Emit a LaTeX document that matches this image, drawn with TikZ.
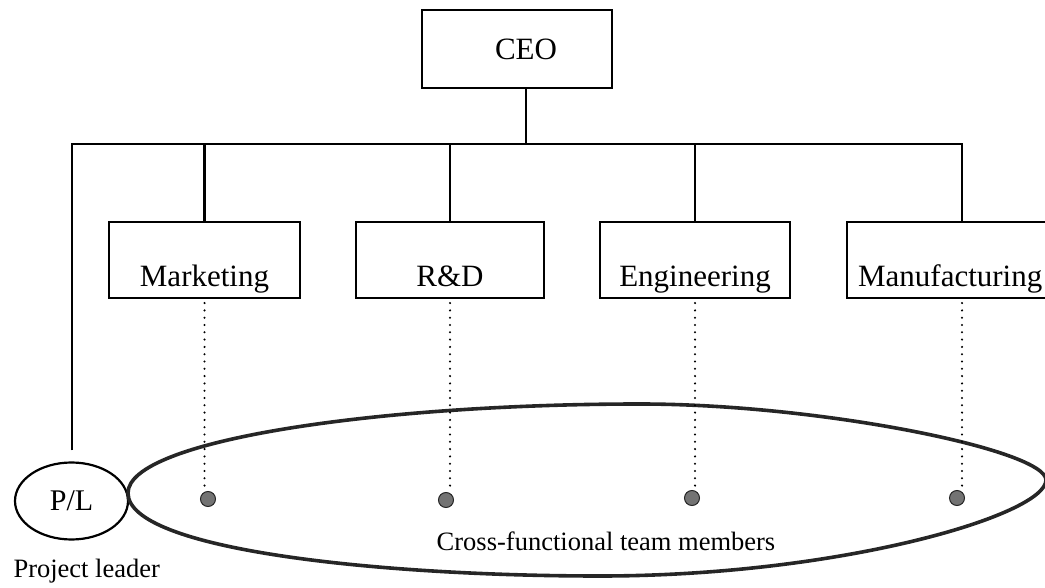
\documentclass[tikz,border=0pt]{standalone}
\usepackage{fontspec}
\setmainfont{Liberation Serif}
\usetikzlibrary{shapes.geometric}
\begin{document}
\begin{tikzpicture}[x=1pt,y=-1pt,
  unitbox/.style={draw, line width=2.2pt, inner sep=0pt,
    font=\fontsize{31}{36}\selectfont},
  deptbox/.style={unitbox, minimum height=76pt, text height=65pt, text depth=11pt},
  link/.style={line width=2.2pt, line join=miter},
  dotline/.style={line width=2.3pt, line cap=round, dash pattern=on 0pt off 7.3pt,
    shorten >=4pt, shorten <=4pt},
  member/.style={circle, fill=black!55, draw=black!85, line width=1pt,
    minimum size=15pt, inner sep=0pt},
  team/.style={draw=black!85, line width=3.6pt},
  caption/.style={font=\fontsize{26.5}{30}\selectfont}]

\useasboundingbox (0,0) rectangle (1045,588);
\clip (0,0) rectangle (1045,588);

% top of the hierarchy
\node[unitbox, minimum height=78pt, inner xsep=0pt, text width=190pt, align=center]
  (CEO) at (517,49) {\hspace*{18pt}CEO};

% functional departments
\node[deptbox, minimum width=191pt] (mkt) at (204.5,260) {Marketing};
\node[deptbox, minimum width=188pt] (rd)  at (450,260) {R\&D};
\node[deptbox, minimum width=190pt] (eng) at (695,260) {Engineering};
\node[deptbox, anchor=west, inner xsep=11pt, text width=214pt, align=left]
  (mfg) at (846,260) {Manufacturing};

% project leader
\node[draw, ellipse, line width=2.2pt, minimum width=113pt, minimum height=77pt,
  inner sep=0pt, font=\fontsize{30}{34}\selectfont] (PL) at (71.5,501) {P/L};
\node[caption, anchor=base west] (pllbl) at (10,577) {Project leader};

% reporting lines
\coordinate (busW) at (72,144);
\coordinate (busE) at (962,144);
\coordinate (ceoStem) at (526,144);
\draw[link] (ceoStem |- CEO.south) -- (ceoStem);
\draw[link, shorten <=11pt] (busW |- PL.north) -- (busW) -- (busE) -- (busE |- mfg.north);
\draw[link] (mkt.north) -- (mkt.north |- busW);
\draw[link] (rd.north)  -- (rd.north |- busW);
\draw[link] (eng.north) -- (eng.north |- busW);

% cross-functional team
\draw[team] (128,493) .. controls (128,440) and (380,404) .. (640,404)
  .. controls (820,404) and (1046,450) .. (1046,480)
  .. controls (1046,515) and (840,576) .. (600,576)
  .. controls (380,576) and (128,550) .. (128,493) -- cycle;

\node[member] (m1) at (208,499) {};
\node[member] (m2) at (446,500) {};
\node[member] (m3) at (692,498) {};
\node[member] (m4) at (957,498) {};

\draw[dotline] (mkt.south) -- (mkt.south |- m1.north);
\draw[dotline] (rd.south)  -- (rd.south |- m2.north);
\draw[dotline] (eng.south) -- (eng.south |- m3.north);
\draw[dotline] (busE |- mfg.south) -- (busE |- m4.north);

\node[caption, anchor=base] (teamlbl) at (606,550) {Cross-functional team members};
\end{tikzpicture}
\end{document}
